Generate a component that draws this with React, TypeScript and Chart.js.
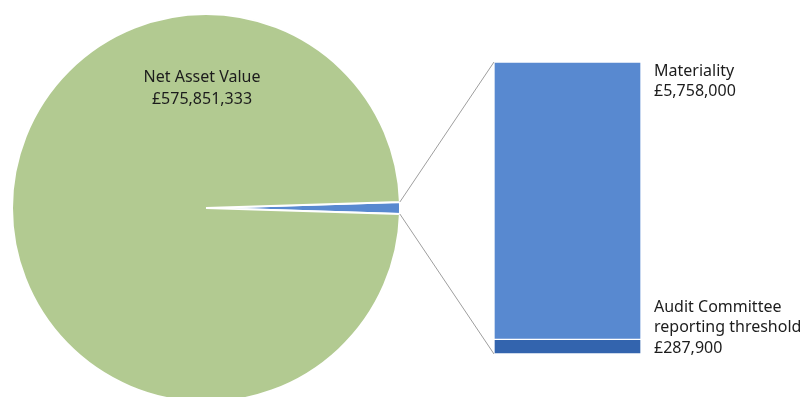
import React, { useEffect, useRef } from "react";
import { Chart, registerables } from "chart.js";

Chart.register(...registerables);

// ---- data ----
const pieLabels = ["Materiality", "Net Asset Value"];
const pieValues = [5758000, 575851333];

const barLabels = ["Audit Committee reporting threshold", "Materiality (above threshold)"];
const barValues = [287900, 5470100];
const barMax = 5758000;

const navLabel = ["Net Asset Value", "£575,851,333"];
const materialityLabel = ["Materiality", "£5,758,000"];
const thresholdLabel = ["Audit Committee", "reporting threshold", "£287,900"];

// ---- styles ----
const GREEN = "#B2CA91";
const BLUE = "#5889D0";
const DARK = "#3364AE";
const LINE = "#9E9E9E";
const TEXT = "#1c1c1c";
const FONT = "16px 'Noto Sans', Lato, sans-serif";

export default function App() {
  const pieRef = useRef<HTMLCanvasElement>(null);
  const barRef = useRef<HTMLCanvasElement>(null);

  useEffect(() => {
    document.body.style.margin = "0";
    const total = pieValues.reduce((a, b) => a + b, 0);
    const sliceDeg = (pieValues[0] / total) * 360;

    const navPlugin = {
      id: "navLabel",
      afterDatasetsDraw(chart: any) {
        const arc = chart.getDatasetMeta(0).data[1];
        const ctx = chart.ctx;
        ctx.save();
        ctx.font = FONT;
        ctx.fillStyle = TEXT;
        ctx.textAlign = "center";
        ctx.textBaseline = "alphabetic";
        ctx.fillText(navLabel[0], arc.x - 4, arc.y - 126);
        ctx.fillText(navLabel[1], arc.x - 4, arc.y - 104);
        ctx.restore();
      },
    };

    const pie = new Chart(pieRef.current!, {
      type: "pie",
      data: {
        labels: pieLabels,
        datasets: [
          {
            data: pieValues,
            backgroundColor: [BLUE, GREEN],
            borderColor: "#ffffff",
            borderWidth: 2,
            clip: false,
          } as any,
        ],
      },
      options: {
        responsive: false,
        animation: false,
        events: [],
        radius: 194,
        rotation: 90 - sliceDeg / 2,
        layout: { padding: { left: 0, right: 392, top: 19, bottom: 0 } },
        plugins: { legend: { display: false }, tooltip: { enabled: false } },
      } as any,
      plugins: [navPlugin],
    });

    const barPlugin = {
      id: "connectors",
      afterDatasetsDraw(chart: any) {
        const ctx = chart.ctx;
        const arc: any = pie.getDatasetMeta(0).data[0];
        const { x, y, startAngle, endAngle, outerRadius } = arc.getProps(
          ["x", "y", "startAngle", "endAngle", "outerRadius"],
          true
        );
        const bottomBar: any = chart.getDatasetMeta(0).data[0];
        const topBar: any = chart.getDatasetMeta(1).data[0];
        const left = topBar.x - topBar.width / 2;
        const right = topBar.x + topBar.width / 2;
        const top = topBar.y;
        const bottom = bottomBar.base;

        ctx.save();
        ctx.strokeStyle = LINE;
        ctx.lineWidth = 1;
        ctx.beginPath();
        ctx.moveTo(x + outerRadius * Math.cos(startAngle), y + outerRadius * Math.sin(startAngle));
        ctx.lineTo(left, top);
        ctx.moveTo(x + outerRadius * Math.cos(endAngle), y + outerRadius * Math.sin(endAngle));
        ctx.lineTo(left, bottom);
        ctx.stroke();

        ctx.font = FONT;
        ctx.fillStyle = TEXT;
        ctx.textAlign = "left";
        ctx.textBaseline = "alphabetic";
        const tx = right + 13;
        ctx.fillText(materialityLabel[0], tx, top + 14);
        ctx.fillText(materialityLabel[1], tx, top + 34);
        ctx.fillText(thresholdLabel[0], tx, bottom - 42);
        ctx.fillText(thresholdLabel[1], tx, bottom - 22);
        ctx.fillText(thresholdLabel[2], tx, bottom - 1);
        ctx.restore();
      },
    };

    const bar = new Chart(barRef.current!, {
      type: "bar",
      data: {
        labels: [""],
        datasets: [
          {
            label: barLabels[0],
            data: [barValues[0]],
            backgroundColor: DARK,
            borderColor: "#ffffff",
            borderWidth: 1,
            borderSkipped: false,
          },
          {
            label: barLabels[1],
            data: [barValues[1]],
            backgroundColor: BLUE,
            borderColor: "#ffffff",
            borderWidth: 1,
            borderSkipped: false,
          },
        ],
      },
      options: {
        responsive: false,
        animation: false,
        events: [],
        layout: { padding: { left: 494, right: 163, top: 62, bottom: 43 } },
        datasets: { bar: { barPercentage: 1, categoryPercentage: 1 } },
        scales: {
          x: { stacked: true, display: false },
          y: { stacked: true, display: false, min: 0, max: barMax },
        },
        plugins: { legend: { display: false }, tooltip: { enabled: false } },
      } as any,
      plugins: [barPlugin],
    });

    return () => {
      bar.destroy();
      pie.destroy();
    };
  }, []);

  return (
    <div style={{ position: "relative", width: 804, height: 397, background: "#fff", overflow: "hidden" }}>
      <canvas ref={pieRef} width={804} height={397} style={{ position: "absolute", left: 0, top: 0 }} />
      <canvas ref={barRef} width={804} height={397} style={{ position: "absolute", left: 0, top: 0 }} />
    </div>
  );
}
